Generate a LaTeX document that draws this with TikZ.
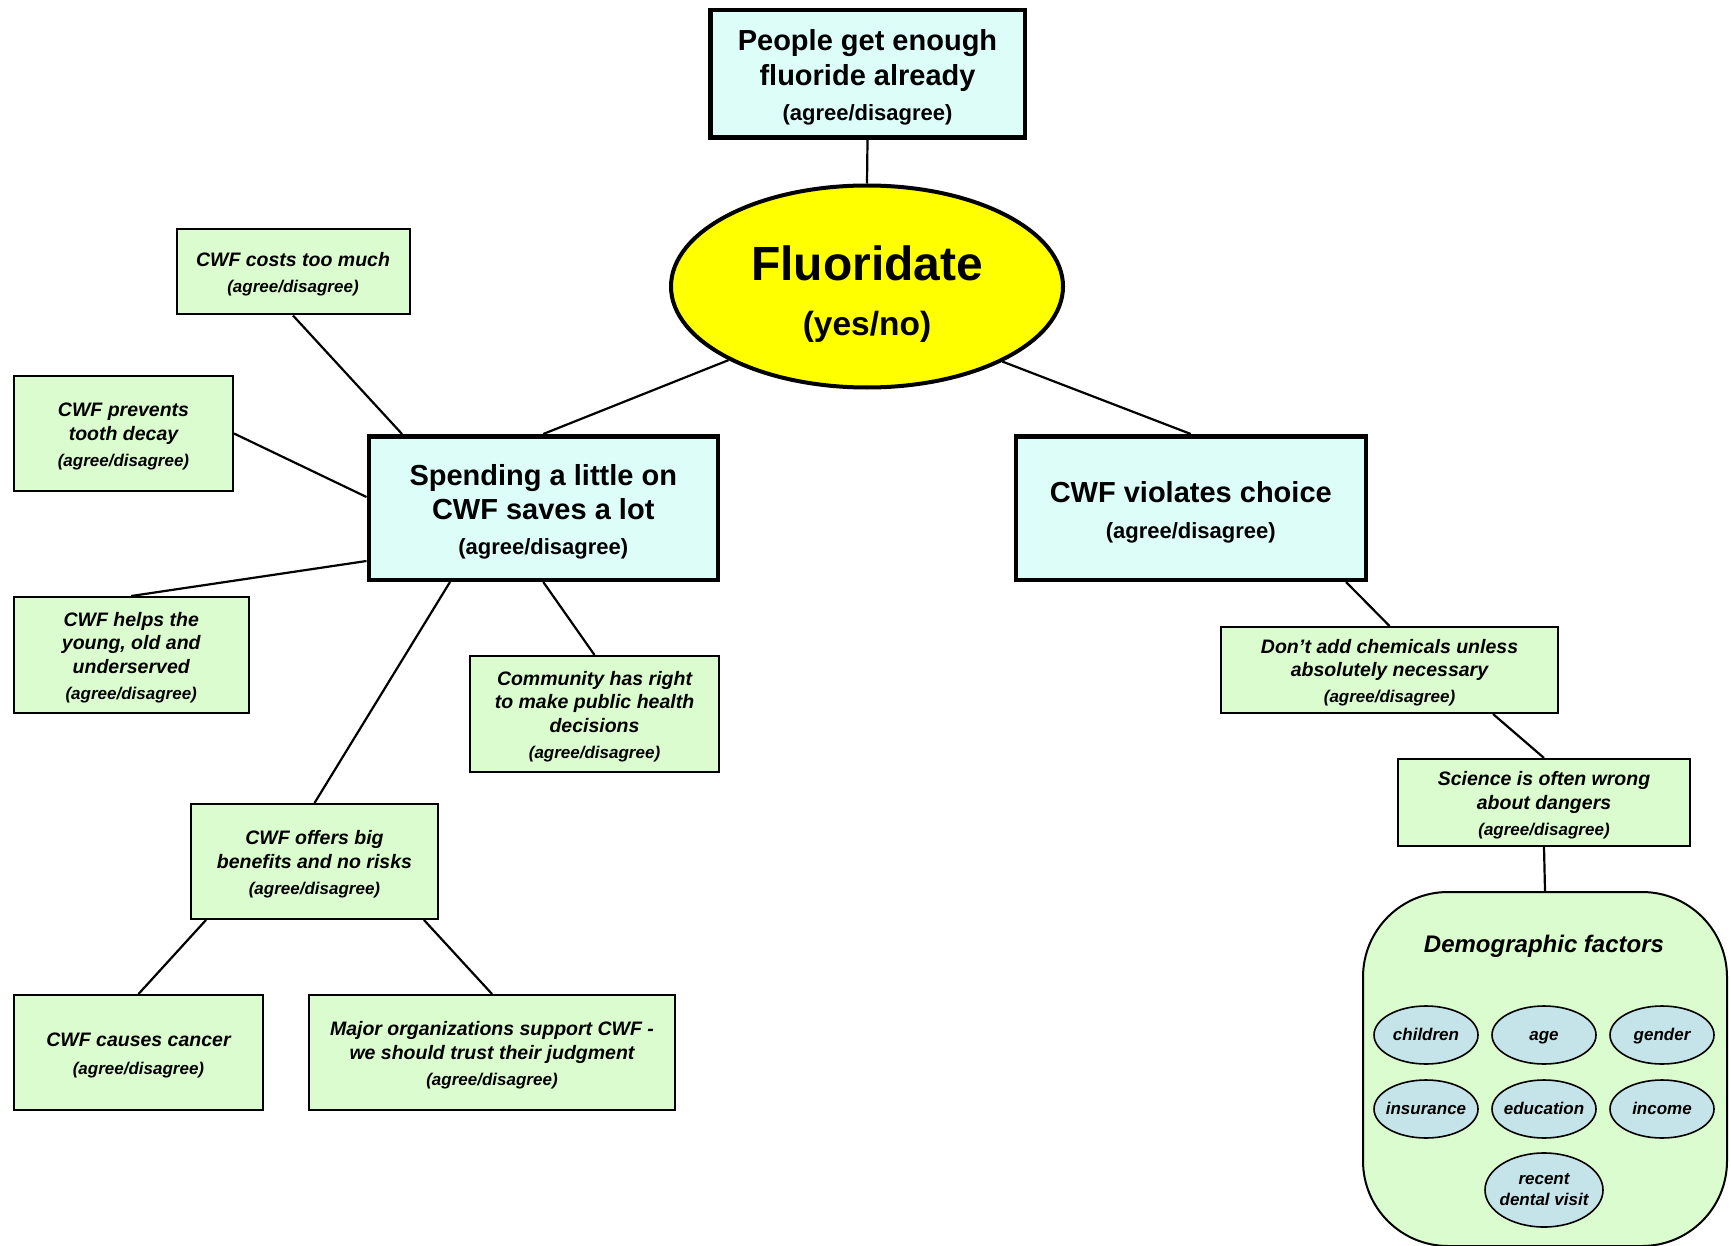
\documentclass[tikz,border=0pt]{standalone}
\usepackage{fontspec}
\setmainfont{Liberation Sans}
\usetikzlibrary{shapes.geometric}
\definecolor{bluefill}{RGB}{221,253,248}
\definecolor{greenfill}{RGB}{218,252,206}
\definecolor{ovalfill}{RGB}{197,228,233}
\definecolor{yel}{RGB}{255,255,0}
\newcommand{\agreeS}{{\fontsize{17}{20}\selectfont(agree/disagree)}}
\newcommand{\agreeL}{{\fontsize{22}{26}\selectfont(agree/disagree)}}
\newcommand{\strutG}{\rule{0pt}{19.5pt}}
\newcommand{\strutB}{\rule{0pt}{28.5pt}}
\begin{document}
\begin{tikzpicture}[x=1pt,y=-1pt,
  bluebox/.style={draw, line width=4.5pt, fill=bluefill, inner sep=0pt, align=center,
    font=\bfseries\fontsize{29}{34.5}\selectfont},
  greenbox/.style={draw, line width=2pt, fill=greenfill, inner sep=0pt, align=center,
    font=\bfseries\itshape\fontsize{19.5}{23.5}\selectfont},
  oval/.style={draw, ellipse, line width=1.6pt, fill=ovalfill, inner ysep=0pt, inner xsep=-12pt,
    minimum width=104pt, minimum height=58pt, align=center,
    font=\bfseries\itshape\fontsize{17}{21}\selectfont},
  ovaltext/.style={text height=13pt, text depth=3pt},
  link/.style={line width=2.2pt}]
\path[use as bounding box, fill=white] (0,0) rectangle (1731,1246);

% central ellipse
\node[ellipse, draw, line width=4pt, fill=yel, minimum width=392pt, minimum height=202pt, inner sep=0pt] (fl) at (867,286.5) {};
\node[font=\bfseries\fontsize{48}{55}\selectfont, align=center, inner sep=0pt] (flt) at (867,293.8)
  {Fluoridate\\{\fontsize{33.5}{40}\selectfont(yes/no)}};

% blue boxes
\node[bluebox, minimum width=314.5pt, minimum height=127.5pt] (tb) at (867.5,74)
  {\strutB People get enough\\fluoride already\\[1pt]\agreeL};
\node[bluebox, minimum width=349pt, minimum height=143.5pt] (sp) at (543.25,508)
  {\strutB Spending a little on\\CWF saves a lot\\\agreeL};
\node[bluebox, minimum width=350pt, minimum height=143.5pt] (vi) at (1190.75,508)
  {\rule{0pt}{30pt}CWF violates choice\\[2pt]\agreeL};

% green boxes
\node[greenbox, minimum width=233pt, minimum height=85pt] (co) at (293,272)
  {\strutG CWF costs too much\\[2.5pt]\agreeS};
\node[greenbox, minimum width=219pt, minimum height=115pt] (pr) at (123.5,433.5)
  {\strutG CWF prevents\\tooth decay\\[2.5pt]\agreeS};
\node[greenbox, minimum width=234.5pt, minimum height=116pt] (he) at (131.25,655)
  {\strutG CWF helps the\\young, old and\\underserved\\[2.5pt]\agreeS};
\node[greenbox, minimum width=249pt, minimum height=116pt] (cm) at (594.5,714)
  {\strutG Community has right\\to make public health\\decisions\\[2.5pt]\agreeS};
\node[greenbox, minimum width=247pt, minimum height=115pt] (of) at (314.5,861.5)
  {\strutG CWF offers big\\benefits and no risks\\[2.5pt]\agreeS};
\node[greenbox, minimum width=249pt, minimum height=115pt] (ca) at (138.5,1052.5)
  {\strutG CWF causes cancer\\[4pt]\agreeS};
\node[greenbox, minimum width=366pt, minimum height=115pt] (mj) at (492,1052.5)
  {\strutG Major organizations support CWF -\\we should trust their judgment\\[2.5pt]\agreeS};
\node[greenbox, minimum width=337pt, minimum height=86pt] (dn) at (1389.5,670)
  {\strutG Don’t add chemicals unless\\absolutely necessary\\[2.5pt]\agreeS};
\node[greenbox, minimum width=292pt, minimum height=87pt] (sc) at (1544,802.5)
  {\strutG Science is often wrong\\about dangers\\[2.5pt]\agreeS};

% demographic factors
\node[draw, line width=2pt, fill=greenfill, rounded corners=85pt, minimum width=364pt,
  minimum height=354pt, anchor=north, inner sep=0pt] (dm) at (1545,891) {};
\node[font=\bfseries\itshape\fontsize{24}{28}\selectfont, anchor=base, inner sep=0pt] (dmt) at (1544,952) {Demographic factors};
\node[oval, ovaltext] (o1) at (1426,1035) {children};
\node[oval, ovaltext] (o2) at (1544,1035) {age};
\node[oval, ovaltext] (o3) at (1662,1035) {gender};
\node[oval, ovaltext] (o4) at (1426,1109) {insurance};
\node[oval, ovaltext] (o5) at (1544,1109) {education};
\node[oval, ovaltext] (o6) at (1662,1109) {income};
\node[oval, minimum width=118pt, minimum height=74pt] (o7) at (1544,1190) {recent\\dental visit};

% connectors
\draw[link] (tb.south) -- (fl.north);
\draw[link] (fl.208.5) -- (sp.north);
\draw[link] (fl.331.8) -- (vi.north);
\draw[link] (co.south) -- ([xshift=35.5pt]sp.north west);
\draw[link] (pr.east) -- ([yshift=11pt]sp.west);
\draw[link] (he.north) -- ([yshift=-53pt]sp.west);
\draw[link] ([xshift=83.5pt]sp.south west) -- (of.north);
\draw[link] (sp.south) -- (cm.north);
\draw[link] ([xshift=16pt]of.south west) -- (ca.north);
\draw[link] ([xshift=-15pt]of.south east) -- (mj.north);
\draw[link] ([xshift=-22pt]vi.south east) -- (dn.north);
\draw[link] ([xshift=-66pt]dn.south east) -- (sc.north);
\draw[link] (sc.south) -- (dm.north);
\end{tikzpicture}
\end{document}
